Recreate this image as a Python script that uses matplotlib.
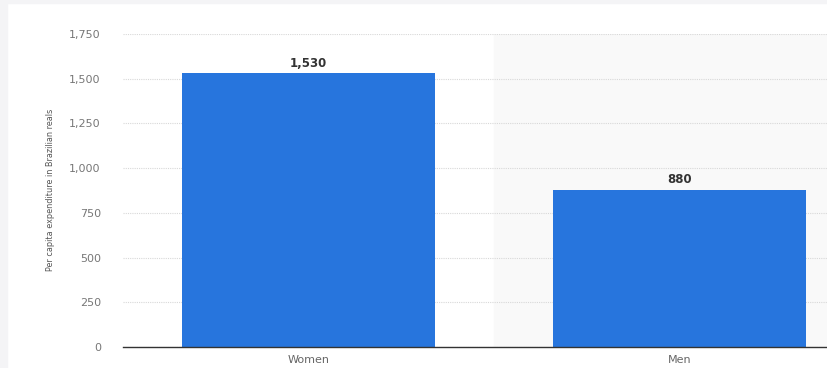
import matplotlib.pyplot as plt
from matplotlib.patches import Rectangle

categories = ['Women', 'Men']
values = [1530, 880]
yticks = [0, 250, 500, 750, 1000, 1250, 1500, 1750]

W, H = 827, 368
fig = plt.figure(figsize=(W / 100, H / 100), dpi=100)
fig.patch.set_facecolor('white')

# light grey frame around the card
fig.add_artist(Rectangle((0, 1 - 3 / H), 1, 3 / H, transform=fig.transFigure,
                         color='#f4f4f6', zorder=0))
fig.add_artist(Rectangle((0, 0), 7 / W, 1, transform=fig.transFigure,
                         color='#f4f4f6', zorder=0))

x0, x1 = 123, 865
y0, y1 = 347, 34
ax = fig.add_axes([x0 / W, 1 - y0 / H, (x1 - x0) / W, (y0 - y1) / H])
ax.set_facecolor('none')

xs = list(range(len(categories)))
ax.axvspan(0.5, 1.5, color='#f9f9f9', zorder=0)
bars = ax.bar(xs, values, width=0.68, color='#2775dd', zorder=2)
for x, v in zip(xs, values):
    ax.text(x, v + 18, f'{v:,}', ha='center', va='bottom', fontsize=8.5,
            fontweight='bold', color='#333333')

ax.set_xlim(-0.5, 1.5)
ax.set_ylim(0, 1750)
ax.set_yticks(yticks)
ax.set_yticklabels([f'{t:,}' for t in yticks])
ax.set_xticks(xs)
ax.set_xticklabels(categories)
ax.tick_params(axis='y', length=0, pad=16, labelsize=8, labelcolor='#777777')
ax.tick_params(axis='x', length=0, pad=6, labelsize=8, labelcolor='#666666')
ax.grid(axis='y', color='#d8d8d8', linestyle=(0, (1, 1)), linewidth=0.8, zorder=1)
ax.set_axisbelow(True)
for s in ['top', 'right', 'left']:
    ax.spines[s].set_visible(False)
ax.spines['bottom'].set_color('#333333')
ax.spines['bottom'].set_linewidth(1)
ax.spines['bottom'].set_zorder(3)

ylab = ax.set_ylabel('Per capita expenditure in Brazilian reals', fontsize=6.5,
                     color='#555555', labelpad=0)
ylab.set_fontstretch('condensed')
ax.yaxis.set_label_coords((55 - x0) / (x1 - x0), (347 - 190) / (347 - 34))

fig.savefig('out.png', dpi=100)
